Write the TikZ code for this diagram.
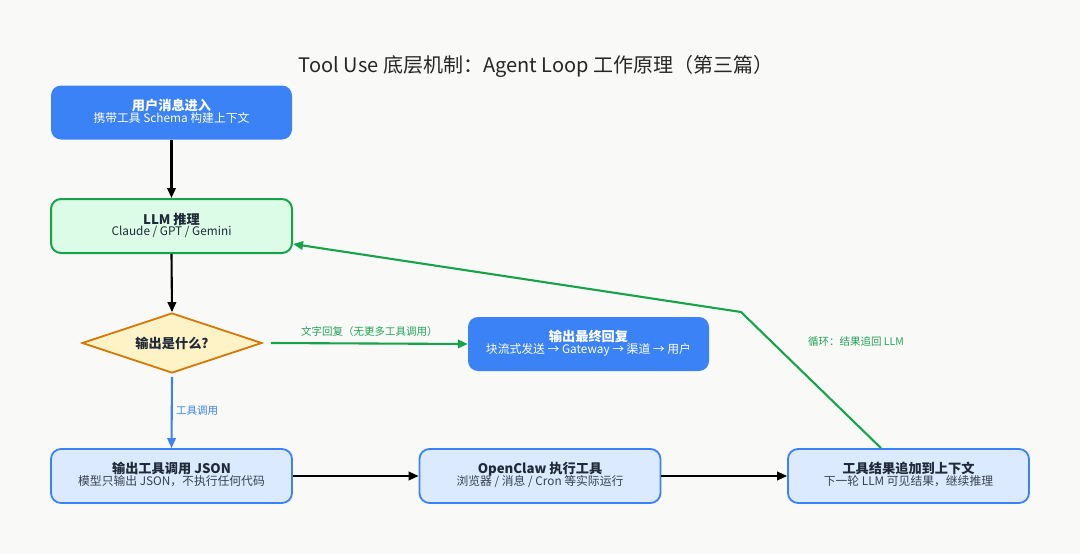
\documentclass[tikz,border=0pt]{standalone}
\usepackage{fontspec}
\setmainfont{Noto Sans CJK SC}
\usetikzlibrary{shapes.geometric,arrows.meta,positioning}
\definecolor{bgc}{HTML}{F9F9F7}
\definecolor{blueF}{HTML}{3B82F6}
\definecolor{blueL}{HTML}{DBEAFE}
\definecolor{greenL}{HTML}{DCFCE7}
\definecolor{greenD}{HTML}{16A34A}
\definecolor{greenT}{HTML}{22A356}
\definecolor{yelL}{HTML}{FEF3C7}
\definecolor{orangeD}{HTML}{D97706}
\definecolor{txtD}{HTML}{1F2937}
\definecolor{txtM}{HTML}{374151}
\newcommand{\twoline}[2]{\begin{tabular}{@{}c@{}}{\fontsize{13.2}{15}\selectfont\bfseries #1}\\[-1.5pt]{\fontsize{11.8}{13}\selectfont #2}\end{tabular}}
\begin{document}
\begin{tikzpicture}[x=1pt,y=-1pt,
  boxbase/.style={rounded corners=10pt,minimum width=241pt,minimum height=54pt,align=center,inner sep=0pt},
  solidbox/.style={boxbase,fill=blueF,text=white},
  llmbox/.style={boxbase,fill=greenL,draw=greenD,line width=2pt,text=txtD},
  stepbox/.style={boxbase,fill=blueL,draw=blueF,line width=1.8pt,text=txtD},
  decide/.style={diamond,aspect=3,fill=yelL,draw=orangeD,line width=1.8pt,minimum width=180pt,minimum height=60pt,inner sep=0pt,text=txtD},
  arr/.style={line width=2.1pt,-{Triangle[length=10pt,width=8.5pt]}},
  lbl/.style={font=\fontsize{10.5}{12}\selectfont}
]
\fill[bgc] (0,0) rectangle (1080,554);
\useasboundingbox (0,0) rectangle (1080,554);

\node[font=\fontsize{20}{22}\selectfont,text=black!85] (title) at (536,66) {Tool Use 底层机制：Agent Loop 工作原理（第三篇）};

\node[solidbox] (user) at (171.5,112.5) {\twoline{用户消息进入}{携带工具 Schema 构建上下文}};
\node[llmbox] (llm) at (171.5,226) {\twoline{LLM 推理}{Claude / GPT / Gemini}};
\node[decide] (dec) at (172,343) {{\fontsize{13.2}{15}\selectfont\bfseries 输出是什么?}};
\node[solidbox] (final) at (588.5,344) {\twoline{输出最终回复}{块流式发送 → Gateway → 渠道 → 用户}};
\node[stepbox] (json) at (171.5,476) {\twoline{输出工具调用 JSON}{\color{txtM}模型只输出 JSON，不执行任何代码}};
\node[stepbox] (exec) at (540,476) {\twoline{OpenClaw 执行工具}{\color{txtM}浏览器 / 消息 / Cron 等实际运行}};
\node[stepbox] (append) at (908.5,476) {\twoline{工具结果追加到上下文}{\color{txtM}下一轮 LLM 可见结果，继续推理}};

\draw[arr,black] (user.south) -- (llm.north);
\draw[arr,black] (llm.south) -- (dec.north);
\draw[arr,greenD] ([xshift=8pt]dec.east) -- node[above=3pt,lbl,text=greenT] {文字回复（无更多工具调用）} (final.west);
\draw[arr,blueF] ([yshift=-3pt]dec.south) -- node[right=0pt,lbl,text=blueF,pos=0.48] {工具调用} (json.north);
\draw[arr,black] (json.east) -- (exec.west);
\draw[arr,black] (exec.east) -- (append.west);
\coordinate (bend) at (741,312);
\draw[arr,greenD] ([xshift=-27.5pt]append.north) -- (bend) -- ([yshift=-18pt]llm.east);
\node[lbl,text=greenT] (looplbl) at (856,342) {循环：结果追回 LLM};
\end{tikzpicture}
\end{document}
